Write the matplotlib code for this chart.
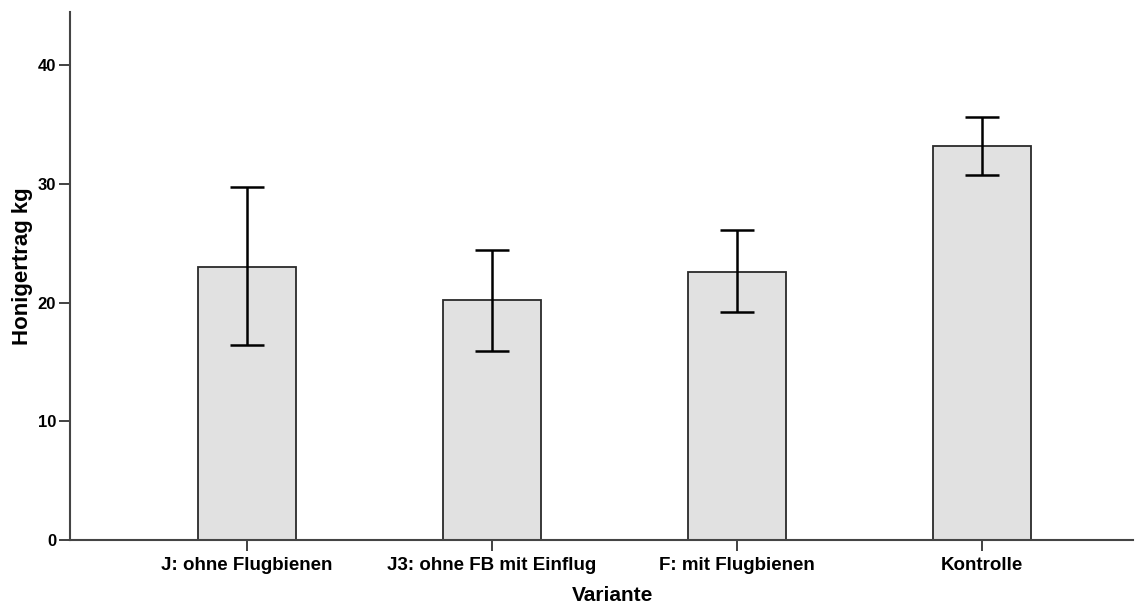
import matplotlib
matplotlib.use("Agg")
import matplotlib.pyplot as plt

# Data
categories = ["J: ohne Flugbienen", "J3: ohne FB mit Einflug", "F: mit Flugbienen", "Kontrolle"]
means = [23.0, 20.2, 22.6, 33.2]
err_low = [16.4, 15.9, 19.2, 30.75]
err_high = [29.7, 24.4, 26.1, 35.65]
y_ticks = [0, 10, 20, 30, 40]

plt.rcParams["font.family"] = ["Liberation Sans", "DejaVu Sans"]
plt.rcParams["font.weight"] = "bold"

fig = plt.figure(figsize=(11.35, 6.1), dpi=100)
ax = fig.add_axes([0.0617, 0.1148, 0.9365, 0.8652])

x = list(range(len(categories)))
yerr = [[m - lo for m, lo in zip(means, err_low)],
        [hi - m for m, hi in zip(means, err_high)]]

ax.bar(x, means, width=0.4, color="#e1e1e1", edgecolor="#2a2a2a", linewidth=1.3, zorder=2)
ax.errorbar(x, means, yerr=yerr, fmt="none", ecolor="black", elinewidth=1.8,
            capsize=12, capthick=1.8, zorder=3)

ax.set_xlim(-0.722, 3.616)
ax.set_ylim(0, 44.45)
ax.set_yticks(y_ticks)
ax.set_xticks(x)
ax.set_xticklabels(categories, fontsize=13.5, fontweight="bold")
ax.set_yticklabels([str(t) for t in y_ticks], fontsize=12, fontweight="bold")

for side in ("top", "right"):
    ax.spines[side].set_visible(False)
for side in ("left", "bottom"):
    ax.spines[side].set_color("#444444")
    ax.spines[side].set_linewidth(1.5)

ax.tick_params(axis="both", direction="out", length=8, width=1.3, color="#333333")
ax.tick_params(axis="x", pad=4)
ax.tick_params(axis="y", pad=2)

ax.set_ylabel("Honigertrag kg", fontsize=16, fontweight="bold")
ax.yaxis.set_label_coords(-0.0345, 0.519)
ax.set_xlabel("Variante", fontsize=15, fontweight="bold")
ax.xaxis.set_label_coords(0.51, -0.088)

fig.savefig("out.png", dpi=100)
